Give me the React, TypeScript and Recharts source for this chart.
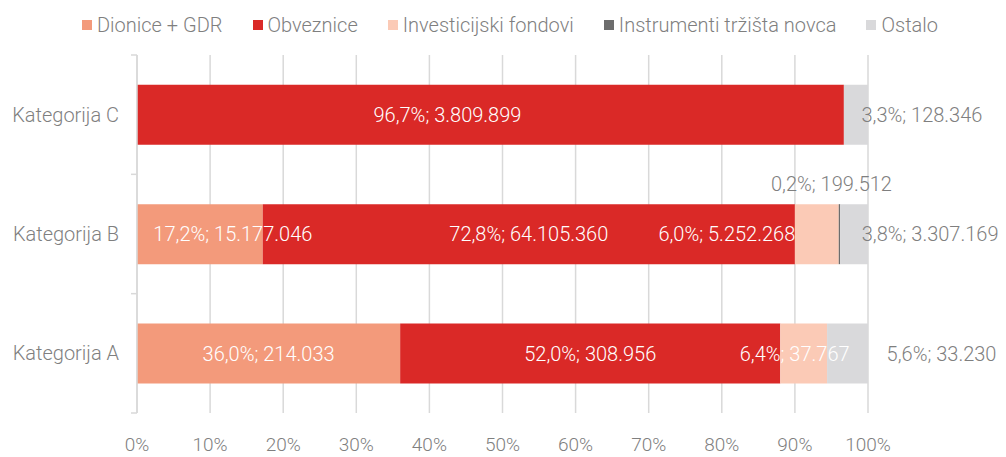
import React from "react";
import {
  BarChart,
  Bar,
  XAxis,
  YAxis,
  CartesianGrid,
  LabelList,
} from "recharts";

// chart values
const categories = ["Kategorija C", "Kategorija B", "Kategorija A"];
const seriesNames = [
  "Dionice + GDR",
  "Obveznice",
  "Investicijski fondovi",
  "Instrumenti tržišta novca",
  "Ostalo",
];
const dionicePct = [0, 17.2, 36.0];
const dioniceAmt = [0, 15177046, 214033];
const obveznicePct = [96.7, 72.8, 52.0];
const obvezniceAmt = [3809899, 64105360, 308956];
const fondoviPct = [0, 6.0, 6.4];
const fondoviAmt = [0, 5252268, 37767];
const novacPct = [0, 0.2, 0];
const novacAmt = [0, 199512, 0];
const ostaloPct = [3.3, 3.8, 5.6];
const ostaloAmt = [128346, 3307169, 33230];
const xTicks = [0, 10, 20, 30, 40, 50, 60, 70, 80, 90, 100];

const COLORS = ["#f39a7b", "#da2927", "#fbcab6", "#6d6d6d", "#d9d9db"];
const GRAY = "#7f7f7f";
const GRID = "#d9d9d9";
const FONT = "Roboto, 'Open Sans', sans-serif";

const W = 1006;
const H = 457;
const TOP = 55;
const XAXIS_H = 44;
const BAND_HALF = (H - TOP - XAXIS_H) / categories.length / 2;

const pctKeys = ["dionice", "obveznice", "fondovi", "novac", "ostalo"];
const pctArrays = [dionicePct, obveznicePct, fondoviPct, novacPct, ostaloPct];
const amtArrays = [dioniceAmt, obvezniceAmt, fondoviAmt, novacAmt, ostaloAmt];

const data = categories.map((name, i) => {
  const row: Record<string, any> = { name };
  pctKeys.forEach((k, s) => {
    row[k] = pctArrays[s][i];
  });
  return row;
});

// manual label placement like in the original (dx from segment centre, dy from bar centre)
const labelNudge: Record<string, [number, number]> = {
  "dionice|1": [33, 0],
  "obveznice|0": [-43, 0],
  "fondovi|1": [-90, 0],
  "fondovi|2": [-9, 0],
  "novac|1": [-8, -50],
  "ostalo|0": [66, 0],
  "ostalo|1": [76, 0],
  "ostalo|2": [94, 0],
};

const fmtPct = (v: number) => v.toFixed(1).replace(".", ",") + "%";
const fmtAmt = (v: number) =>
  String(Math.round(v)).replace(/\B(?=(\d{3})+(?!\d))/g, ".");

const makeLabel = (key: string, s: number) => (props: any) => {
  const { x, y, width, height, value } = props;
  const i = categories.indexOf(value);
  const pct = pctArrays[s][i];
  if (!pct) return null;
  const [dx, dy] = labelNudge[`${key}|${i}`] || [0, 0];
  const outside = key === "ostalo" || key === "novac";
  return (
    <text
      x={x + width / 2 + dx}
      y={y + height / 2 + dy}
      dy={7}
      textAnchor="middle"
      fill={outside ? GRAY : "#ffffff"}
      fontSize={20}
      fontWeight={300}
      fontFamily={FONT}
    >
      {`${fmtPct(pct)}; ${fmtAmt(amtArrays[s][i])}`}
    </text>
  );
};

const CategoryTick = (props: any) => {
  const { x, y, payload, index } = props;
  return (
    <g>
      <text
        x={x - 18}
        y={y}
        dy={7}
        textAnchor="end"
        fill={GRAY}
        fontSize={20}
        fontWeight={300}
        fontFamily={FONT}
      >
        {payload.value}
      </text>
      <line x1={x - 6} x2={x} y1={y + BAND_HALF} y2={y + BAND_HALF} stroke={GRID} strokeWidth={1.5} />
      {index === 0 && (
        <line x1={x - 6} x2={x} y1={y - BAND_HALF} y2={y - BAND_HALF} stroke={GRID} strokeWidth={1.5} />
      )}
    </g>
  );
};

const LegendRow = () => (
  <div
    style={{
      position: "absolute",
      left: 0,
      top: 11,
      width: W + 14,
      display: "flex",
      justifyContent: "center",
      gap: 30,
      fontFamily: FONT,
      fontWeight: 300,
      fontSize: 20,
      color: GRAY,
      lineHeight: "28px",
    }}
  >
    {seriesNames.map((n, i) => (
      <div key={n} style={{ display: "flex", alignItems: "center" }}>
        <span
          style={{
            width: 10,
            height: 10,
            background: COLORS[i],
            marginRight: 5,
            display: "inline-block",
          }}
        />
        <span>{n}</span>
      </div>
    ))}
  </div>
);

export default function App() {
  return (
    <div style={{ position: "absolute", left: 0, top: 0, width: W, height: H, background: "#fff" }}>
      <LegendRow />
      <BarChart
        width={W}
        height={H}
        data={data}
        layout="vertical"
        barCategoryGap="25%"
        margin={{ top: TOP, right: 138, bottom: 0, left: 0 }}
      >
        <CartesianGrid horizontal={false} stroke={GRID} strokeWidth={1.5} />
        <XAxis
          type="number"
          domain={[0, 100]}
          ticks={xTicks}
          tickFormatter={(v) => `${v}%`}
          axisLine={false}
          tickLine={false}
          tickSize={0}
          tickMargin={25}
          height={XAXIS_H}
          tick={{ fill: GRAY, fontSize: 19, fontWeight: 300, fontFamily: FONT }}
          interval={0}
        />
        <YAxis
          type="category"
          dataKey="name"
          width={137}
          axisLine={{ stroke: GRID, strokeWidth: 1.5 }}
          tickLine={false}
          tickSize={0}
          tickMargin={0}
          tick={<CategoryTick />}
        />
        {pctKeys.map((k, s) => (
          <Bar key={k} dataKey={k} stackId="a" fill={COLORS[s]} isAnimationActive={false}>
            <LabelList dataKey="name" content={makeLabel(k, s)} />
          </Bar>
        ))}
      </BarChart>
    </div>
  );
}
